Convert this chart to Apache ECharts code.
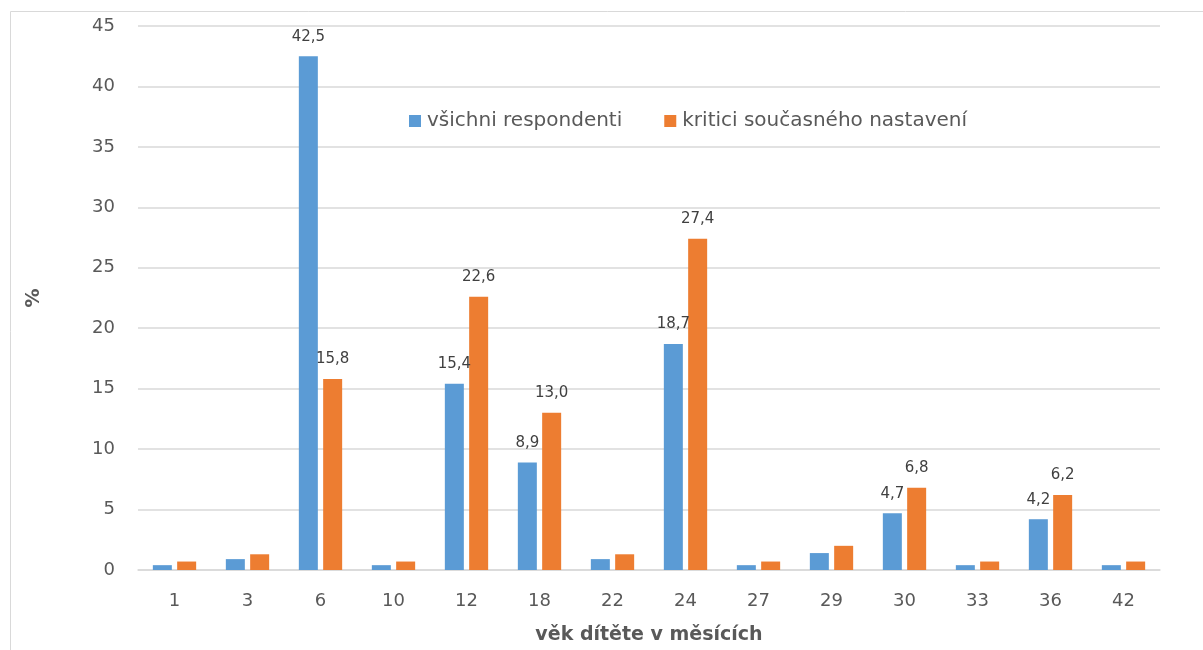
<!DOCTYPE html>
<html><head><meta charset="utf-8">
<script src="https://cdn.jsdelivr.net/npm/echarts@6/dist/echarts.min.js"></script>
<style>html,body{margin:0;padding:0;background:#fff}#c{width:1203px;height:650px}</style>
</head><body><div id="c"></div>
<script>
const categories = ['1','3','6','10','12','18','22','24','27','29','30','33','36','42'];
const allRespondents = [0.4, 0.9, 42.5, 0.4, 15.4, 8.9, 0.9, 18.7, 0.4, 1.4, 4.7, 0.4, 4.2, 0.4];
const critics = [0.7, 1.3, 15.8, 0.7, 22.6, 13.0, 1.3, 27.4, 0.7, 2.0, 6.8, 0.7, 6.2, 0.7];
const seriesNames = ['všichni respondenti', 'kritici současného nastavení'];
const yTicks = {min: 0, max: 45, interval: 5};
const labelThreshold = 3;

const FONT = '"DejaVu Sans", Verdana, sans-serif';
const chart = echarts.init(document.getElementById('c'));
const lbl = {
  show: true, position: 'top', distance: 12, fontFamily: FONT, fontSize: 15, color: '#404040',
  formatter: p => p.value >= labelThreshold ? p.value.toFixed(1).replace('.', ',') : ''
};
chart.setOption({
  animation: false,
  textStyle: {fontFamily: FONT},
  graphic: [{type: 'rect', shape: {x: 10.5, y: 11.5, width: 1300, height: 800}, style: {fill: 'none', stroke: '#d9d9d9', lineWidth: 1}, silent: true}],
  grid: {left: 138, right: 43, top: 26, bottom: 80},
  legend: {
    left: 404, top: 106, itemWidth: 12, itemHeight: 12, itemGap: 42, icon: 'rect',
    textStyle: {fontFamily: FONT, fontSize: 20, color: '#595959', padding: [0, 0, 0, 1]},
    data: seriesNames
  },
  xAxis: {
    type: 'category', data: categories,
    name: 'věk dítěte v měsících', nameLocation: 'middle', nameGap: 56,
    nameTextStyle: {fontFamily: FONT, fontSize: 19, fontWeight: 'bold', color: '#595959'},
    axisLine: {lineStyle: {color: '#d9d9d9', width: 1.5}},
    axisTick: {show: false},
    axisLabel: {margin: 22, fontFamily: FONT, fontSize: 18, color: '#595959'}
  },
  yAxis: {
    type: 'value', min: yTicks.min, max: yTicks.max, interval: yTicks.interval,
    name: '%', nameLocation: 'middle', nameGap: 94, nameRotate: 90,
    nameTextStyle: {fontFamily: FONT, fontSize: 19, fontWeight: 'bold', color: '#595959'},
    axisLine: {show: false}, axisTick: {show: false},
    axisLabel: {margin: 23, fontFamily: FONT, fontSize: 18, color: '#595959'},
    splitLine: {lineStyle: {color: '#d9d9d9', width: 1.5}}
  },
  series: [
    {name: seriesNames[0], type: 'bar', data: allRespondents, barWidth: 19, barGap: '28%',
     itemStyle: {color: '#5B9BD5'}, label: lbl},
    {name: seriesNames[1], type: 'bar', data: critics, barWidth: 19,
     itemStyle: {color: '#ED7D31'}, label: lbl}
  ]
});
</script></body></html>
